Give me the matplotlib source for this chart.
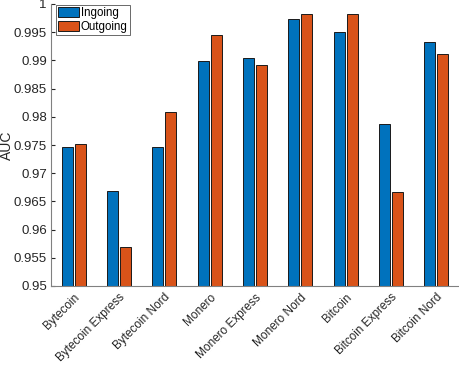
import matplotlib
matplotlib.use("Agg")
import matplotlib.pyplot as plt
import numpy as np

categories = ["Bytecoin", "Bytecoin Express", "Bytecoin Nord", "Monero", "Monero Express",
              "Monero Nord", "Bitcoin", "Bitcoin Express", "Bitcoin Nord"]
ingoing = [0.9746, 0.9668, 0.9747, 0.9899, 0.9905, 0.9973, 0.9950, 0.9787, 0.9932]
outgoing = [0.9752, 0.9569, 0.9809, 0.9945, 0.9891, 0.9983, 0.9983, 0.9666, 0.9911]
yticks = [0.95, 0.955, 0.96, 0.965, 0.97, 0.975, 0.98, 0.985, 0.99, 0.995, 1]
ytick_labels = ["0.95", "0.955", "0.96", "0.965", "0.97", "0.975", "0.98", "0.985", "0.99", "0.995", "1"]

plt.rcParams['font.family'] = ['Liberation Sans', 'DejaVu Sans']
fig = plt.figure(figsize=(4.6, 3.68), dpi=100)
ax = fig.add_axes([51/460, 1-286/368, 408/460, 282/368])

x = np.arange(len(categories))
w = 0.24
ax.bar(x - 0.145, ingoing, w, color="#0072BD", edgecolor="#1a1a1a", linewidth=0.7, label="Ingoing")
ax.bar(x + 0.145, outgoing, w, color="#D95319", edgecolor="#1a1a1a", linewidth=0.7, label="Outgoing")

ax.set_ylim(0.95, 1.0)
ax.set_xlim(-0.5, len(categories) - 0.5)
ax.set_yticks(yticks)
ax.set_yticklabels(ytick_labels)
ax.set_xticks(x)
ax.set_xticklabels(categories, rotation=45, ha="right", rotation_mode="anchor")
ax.set_ylabel("AUC", fontsize=10, color="#262626")
ax.yaxis.set_label_coords(-0.09, 0.5)

for s in ["top", "right"]:
    ax.spines[s].set_visible(False)
for s in ["left", "bottom"]:
    ax.spines[s].set_color("#808080")
    ax.spines[s].set_linewidth(0.8)
ax.tick_params(axis="y", direction="in", length=3, color="#262626", labelsize=9.5, labelcolor="#262626", pad=3)
ax.tick_params(axis="x", direction="in", length=0, labelsize=8.5, labelcolor="#262626", pad=4)

leg = ax.legend(loc="upper left", bbox_to_anchor=(5/408, 1 - 1/282), fontsize=8.3, frameon=True, fancybox=False,
                edgecolor="#262626", handlelength=1.8, handleheight=0.95, handletextpad=0.15,
                borderpad=0.2, labelspacing=0.15, borderaxespad=0.0)
leg.get_frame().set_linewidth(0.6)

fig.savefig("out.png", dpi=100)
